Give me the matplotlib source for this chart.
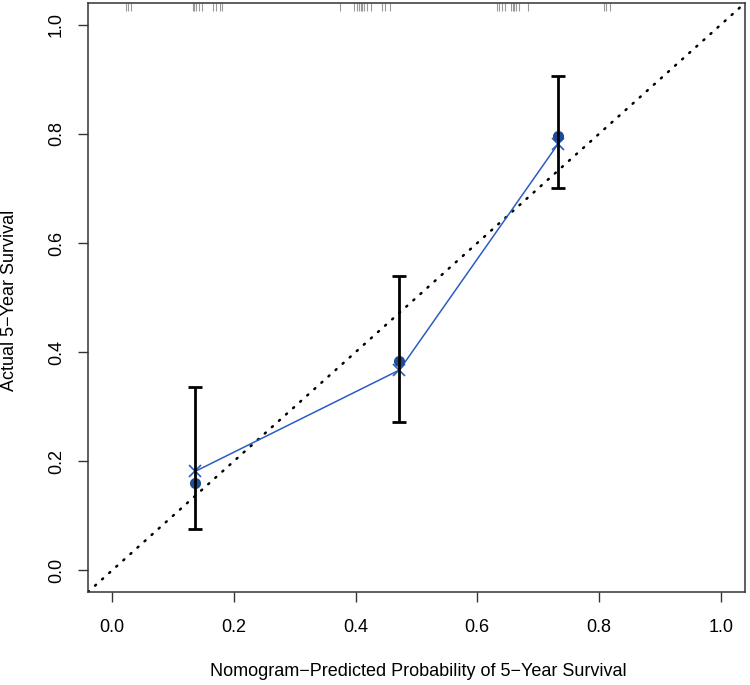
import matplotlib
matplotlib.use('Agg')
import matplotlib.pyplot as plt
import numpy as np

plt.rcParams['font.family'] = ['Liberation Sans', 'DejaVu Sans']

# calibration groups
pred = [0.136, 0.472, 0.733]
observed = [0.159, 0.383, 0.797]
bias_corrected = [0.181, 0.367, 0.782]
ci_low = [0.075, 0.272, 0.700]
ci_high = [0.336, 0.540, 0.906]

# distribution of predicted risks (rug at top)
rug = [0.022, 0.025, 0.030,
       0.132, 0.135, 0.138, 0.142, 0.147,
       0.166, 0.170, 0.177, 0.180,
       0.375,
       0.398, 0.402, 0.405, 0.408, 0.411, 0.414, 0.418, 0.425,
       0.444, 0.448, 0.456,
       0.632, 0.636, 0.641, 0.645,
       0.655, 0.658, 0.661, 0.664, 0.668,
       0.683,
       0.808, 0.812, 0.818]

ticks = [0.0, 0.2, 0.4, 0.6, 0.8, 1.0]
tick_labels = ['0.0', '0.2', '0.4', '0.6', '0.8', '1.0']

fig = plt.figure(figsize=(7.5, 6.85), dpi=100)
ax = fig.add_axes([0.1173, 0.1358, 0.876, 0.8598])

ax.set_xlim(-0.04, 1.04)
ax.set_ylim(-0.04, 1.04)

# ideal line
ax.plot([-0.04, 1.04], [-0.04, 1.04], color='black', linewidth=1.8,
        linestyle=(0, (0.5, 3.3)), dash_capstyle='round', zorder=1)

# rug
ax.vlines(rug, 1.025, 1.04, color='#777777', alpha=0.75, linewidth=0.8, zorder=2)

# bias-corrected line
ax.plot(pred, bias_corrected, color='#2b5cc4', linewidth=1.1, marker='x',
        markersize=8, markeredgewidth=1.2, zorder=3)

# observed points
ax.plot(pred, observed, linestyle='none', marker='o', markersize=7,
        color='#1f4b96', zorder=4)

# confidence intervals
ax.errorbar(pred, observed,
            yerr=[np.array(observed) - np.array(ci_low), np.array(ci_high) - np.array(observed)],
            fmt='none', ecolor='black', elinewidth=2, capsize=5, capthick=2, zorder=5)

ax.set_xticks(ticks)
ax.set_xticklabels(tick_labels)
ax.set_yticks(ticks)
ax.set_yticklabels(tick_labels, rotation=90, va='center')
ax.tick_params(axis='both', labelsize=13, length=7.5, width=1, color='#333333')
ax.tick_params(axis='x', pad=12)
ax.tick_params(axis='y', pad=9)

for s in ax.spines.values():
    s.set_linewidth(1.1)
    s.set_color('#333333')

fig.text(418 / 750, 1 - 672 / 685, 'Nomogram\u2212Predicted Probability of 5\u2212Year Survival',
         ha='center', va='center', fontsize=13)
fig.text(10 / 750, 1 - 300 / 685, 'Actual 5\u2212Year Survival', rotation=90,
         ha='center', va='center', fontsize=13)

fig.savefig('out.png', dpi=100)
